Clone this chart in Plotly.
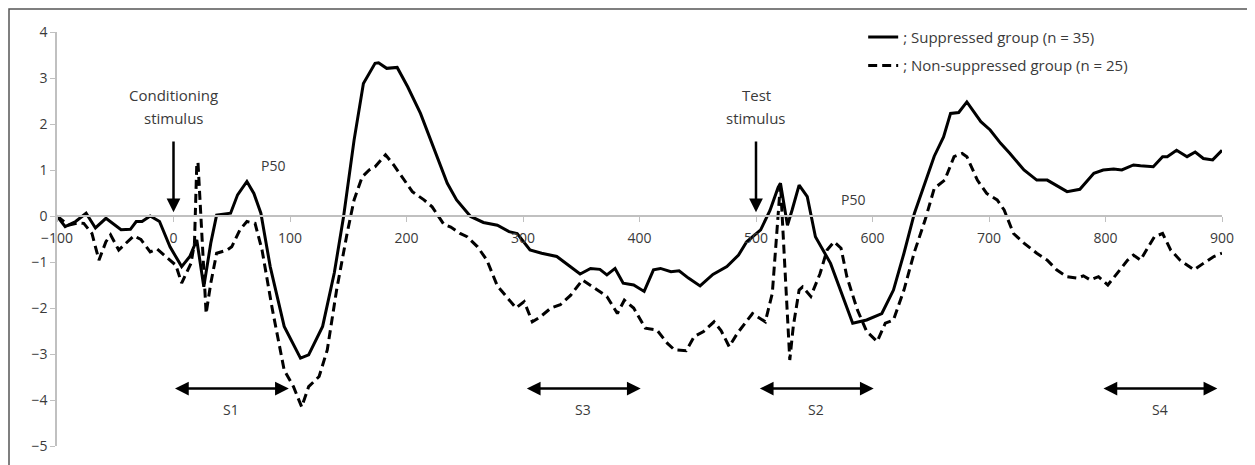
import plotly.graph_objects as go

# ---- data ----
supp_x = [-100, -93, -84, -75, -67, -58, -45, -37, -32, -27, -20, -12, -3, 7, 14, 20, 26, 32, 37,
          49, 55, 63, 69, 75, 83, 95, 109, 116, 128, 138, 146, 155, 163, 173, 176, 183, 192, 201,
          212, 223, 235, 243, 255, 266, 278, 288, 295, 306, 316, 329, 349, 358, 366, 372, 379, 386,
          395, 404, 412, 418, 427, 434, 442, 452, 463, 475, 485, 492, 504, 512, 519, 521, 527, 531,
          537, 544, 551, 564, 583, 595, 608, 618, 627, 636, 644, 653, 661, 667, 674, 681, 693, 701,
          710, 718, 730, 741, 750, 758, 767, 778, 790, 798, 807, 814, 824, 830, 841, 849, 853, 861,
          870, 877, 884, 892, 900]
supp_y = [0.0, -0.23, -0.12, 0.06, -0.26, -0.05, -0.3, -0.29, -0.12, -0.12, 0.0, -0.12, -0.67, -1.1,
          -0.88, -0.52, -1.54, -0.59, 0.02, 0.06, 0.46, 0.75, 0.49, 0.06, -1.1, -2.4, -3.09, -3.02,
          -2.4, -1.24, -0.01, 1.65, 2.88, 3.32, 3.33, 3.21, 3.23, 2.81, 2.23, 1.51, 0.71, 0.35, -0.01,
          -0.14, -0.2, -0.34, -0.38, -0.74, -0.81, -0.88, -1.26, -1.14, -1.16, -1.28, -1.14, -1.46,
          -1.5, -1.64, -1.17, -1.14, -1.21, -1.19, -1.35, -1.52, -1.27, -1.1, -0.85, -0.56, -0.3,
          0.12, 0.62, 0.71, -0.2, 0.13, 0.67, 0.42, -0.45, -1.03, -2.33, -2.26, -2.12, -1.61, -0.81,
          0.06, 0.64, 1.3, 1.72, 2.23, 2.25, 2.48, 2.05, 1.87, 1.58, 1.36, 1.0, 0.78, 0.78, 0.67,
          0.53, 0.58, 0.93, 1.0, 1.02, 1.0, 1.11, 1.09, 1.07, 1.29, 1.29, 1.43, 1.29, 1.39, 1.25,
          1.22, 1.43]

nons_x = [-100, -90, -82, -77, -70, -64, -58, -54, -47, -34, -28, -20, -14, -7, 2, 7, 15, 18, 20, 21,
          25, 28, 32, 37, 46, 50, 57, 63, 70, 76, 85, 95, 103, 110, 116, 125, 132, 140, 149, 155,
          162, 168, 173, 182, 189, 198, 205, 215, 222, 232, 238, 246, 252, 261, 269, 278, 287, 294,
          301, 308, 315, 324, 332, 341, 351, 361, 372, 381, 387, 395, 405, 415, 424, 430, 440, 447,
          455, 464, 470, 477, 484, 497, 508, 514, 518, 521, 524, 529, 532, 537, 540, 547, 555, 561,
          567, 573, 578, 587, 595, 604, 611, 618, 627, 636, 645, 653, 662, 670, 677, 681, 690, 698,
          707, 713, 721, 730, 741, 750, 758, 767, 776, 781, 787, 794, 802, 810, 819, 824, 830, 836,
          842, 849, 856, 864, 876, 884, 893, 900]
nons_y = [0.0, -0.2, -0.15, -0.16, -0.38, -0.96, -0.56, -0.41, -0.74, -0.43, -0.51, -0.78, -0.72,
          -0.88, -1.07, -1.46, -1.03, -0.59, 1.15, 1.17, -0.74, -2.12, -1.46, -0.81, -0.74, -0.67,
          -0.3, -0.12, -0.16, -0.74, -2.05, -3.35, -3.71, -4.15, -3.71, -3.49, -2.91, -1.61, -0.38,
          0.35, 0.85, 1.0, 1.07, 1.33, 1.11, 0.78, 0.53, 0.35, 0.2, -0.18, -0.24, -0.38, -0.45,
          -0.67, -0.96, -1.52, -1.8, -2.0, -1.86, -2.3, -2.19, -2.0, -1.93, -1.72, -1.39, -1.57,
          -1.75, -2.12, -1.83, -2.0, -2.44, -2.48, -2.77, -2.91, -2.93, -2.62, -2.51, -2.3, -2.49,
          -2.84, -2.55, -2.12, -2.3, -1.68, -0.38, 0.71, -0.74, -3.13, -2.4, -1.61, -1.54, -1.75,
          -1.25, -0.74, -0.56, -0.7, -1.32, -2.04, -2.51, -2.73, -2.33, -2.26, -1.61, -0.78, -0.1,
          0.6, 0.78, 1.29, 1.36, 1.29, 0.78, 0.49, 0.35, 0.13, -0.38, -0.59, -0.81, -0.96, -1.17,
          -1.32, -1.35, -1.3, -1.39, -1.32, -1.5, -1.25, -0.96, -0.85, -0.96, -0.7, -0.45, -0.38,
          -0.74, -0.96, -1.17, -1.03, -0.88, -0.81]

x_ticks = [-100, 0, 100, 200, 300, 400, 500, 600, 700, 800, 900]
y_ticks = [-5, -4, -3, -2, -1, 0, 1, 2, 3, 4]

segments = ["S1", "S3", "S2", "S4"]
seg_start = [0, 302, 502, 797]
seg_end = [99, 401, 601, 896]

stim_labels = [("Conditioning", "stimulus"), ("Test", "stimulus")]
stim_x = [0, 500]
p50_x = [85, 583]
p50_y = [1.1, 0.35]

FONT = "Open Sans"
TXT = "#3a3a3a"

fig = go.Figure()
fig.add_trace(go.Scatter(x=supp_x, y=supp_y, mode="lines", name="; Suppressed group (n = 35)",
                         line=dict(color="black", width=3), legendgroup="a"))
fig.add_trace(go.Scatter(x=nons_x, y=nons_y, mode="lines", name="; Non-suppressed group (n = 25)",
                         line=dict(color="black", width=3, dash="9px,5px"), legendgroup="b"))

ann = []
for (l1, l2), sx in zip(stim_labels, stim_x):
    ann.append(dict(x=sx, y=2.63, text=l1, showarrow=False, font=dict(size=15, color=TXT, family=FONT)))
    ann.append(dict(x=sx, y=2.13, text=l2, showarrow=False, font=dict(size=15, color=TXT, family=FONT)))
    ann.append(dict(x=sx, y=0.08, ax=sx, ay=1.65, axref="x", ayref="y", text="", showarrow=True,
                    arrowhead=2, arrowsize=1.1, arrowwidth=2.5, arrowcolor="black"))
for px_, py_ in zip(p50_x, p50_y):
    ann.append(dict(x=px_, y=py_, text="P50", showarrow=False, font=dict(size=14, color=TXT, family=FONT)))
for lab, s0, s1 in zip(segments, seg_start, seg_end):
    ann.append(dict(x=s1, y=-3.75, ax=s0, ay=-3.75, axref="x", ayref="y", text="", showarrow=True,
                    arrowhead=2, arrowside="end+start", arrowsize=1.1, arrowwidth=2.5, arrowcolor="black"))
    ann.append(dict(x=(s0 + s1) / 2, y=-4.2, text=lab, showarrow=False,
                    font=dict(size=14, color=TXT, family=FONT)))

fig.update_layout(
    width=1247, height=457, autosize=False,
    margin=dict(l=49, r=33, t=24, b=19, autoexpand=False),
    paper_bgcolor="white", plot_bgcolor="white",
    font=dict(family=FONT, color=TXT, size=14),
    showlegend=True,
    legend=dict(x=0.692, y=1.027, xanchor="left", yanchor="top", bgcolor="rgba(0,0,0,0)",
                font=dict(size=15, color=TXT, family=FONT), tracegroupgap=6, traceorder="grouped"),
    xaxis=dict(range=[-100, 900], tickvals=x_ticks, showgrid=False, zeroline=False,
               showline=True, linecolor="#c0c0c0", linewidth=1.5, ticks="outside", ticklen=5,
               tickcolor="#c0c0c0", anchor="free", position=5 / 9, ticklabelstandoff=4,
               automargin=False, tickfont=dict(size=14, color=TXT, family=FONT)),
    yaxis=dict(range=[-5, 4], tickvals=y_ticks, showgrid=False, zeroline=False,
               showline=True, linecolor="#c0c0c0", linewidth=1.5, ticks="outside", ticklen=5,
               tickcolor="#c0c0c0", automargin=False, tickfont=dict(size=14, color=TXT, family=FONT)),
    annotations=ann,
    shapes=[dict(type="rect", xref="paper", yref="paper", x0=-0.0412, x1=1.03, y0=-0.05, y1=1.0556,
                 line=dict(color="#555555", width=1.5), fillcolor="rgba(0,0,0,0)", layer="below")],
)

fig.write_html("out.html")
